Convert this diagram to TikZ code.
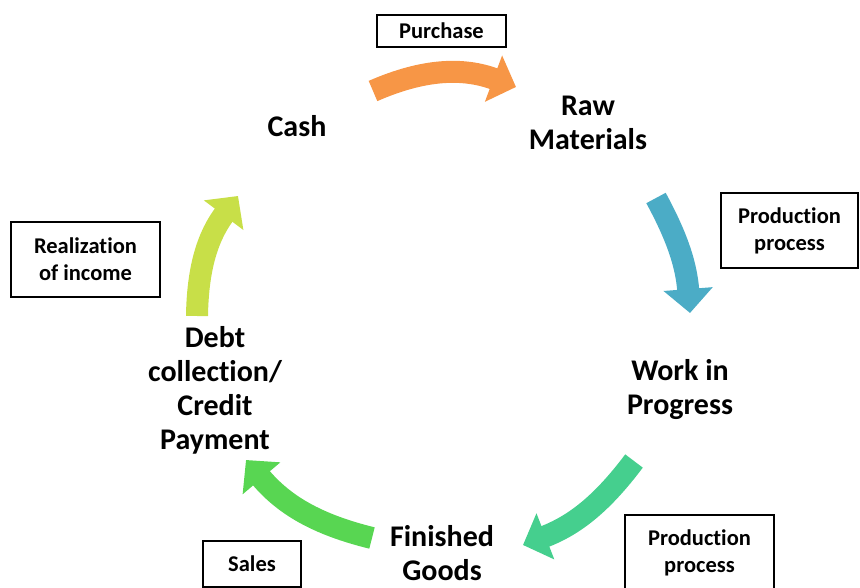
\documentclass[tikz,border=0pt]{standalone}
\usepackage{fontspec}
\setmainfont[Ligatures=NoCommon]{Carlito}
\usepackage{xcolor}
\usetikzlibrary{arrows.meta, positioning}

\definecolor{purchase_orange}{HTML}{F79646}
\definecolor{production_blue}{HTML}{4BACC6}
\definecolor{process_teal}{HTML}{45CF8E}
\definecolor{sales_green}{HTML}{58D652}
\definecolor{income_lime}{HTML}{C8DF48}

\tikzset{stage/.style={font=\fontsize{30}{34}\selectfont\bfseries, align=center},
         label_box/.style={draw, line width=1.5pt, inner sep=0pt, align=center,
                           font=\fontsize{22.5}{27}\selectfont\bfseries},
         flow/.style={line width=22pt, -{Triangle[length=24pt, width=48pt]}}
        }

\begin{document}
\begin{tikzpicture}[x=1pt, y=1pt]
\useasboundingbox (0,0) rectangle (860,-588);

\node[stage](cash) at (297,-126){Cash};
\node[stage](raw_materials) at (588,-123){Raw\\Materials};
\node[stage](work_in_progress) at (680,-390){Work in\\Progress};
\node[stage](finished_goods) at (442,-553){Finished\\Goods};
\node[stage](debt_collection) at (215,-390){Debt\\collection/\\Credit\\Payment};

\node[label_box, minimum width=129pt, minimum height=32pt](purchase) at (441.5,-31){Purchase};
\node[label_box, minimum width=137pt, minimum height=75pt](production_top) at (789.5,-230.5){Production\\process};
\node[label_box, minimum width=149pt, minimum height=75pt](production_bottom) at (699.5,-552.5){Production\\process};
\node[label_box, minimum width=98pt, minimum height=46pt](sales) at (252,-564){Sales};
\node[label_box, minimum width=149pt, minimum height=75pt](realization) at (85.5,-259.5){Realization\\of income};

\coordinate (purchase_tail) at (373,-91);
\coordinate (purchase_tip) at (516,-87);
\coordinate (production_tail) at (656,-198);
\coordinate (production_tip) at (690,-313);
\coordinate (process_tail) at (634,-461);
\coordinate (process_tip) at (523,-545);
\coordinate (sales_tail) at (372,-538);
\coordinate (sales_tip) at (246,-460);
\coordinate (income_tail) at (197,-316);
\coordinate (income_tip) at (238,-196);

\draw[flow, purchase_orange](purchase_tail) to [bend left = 22] (purchase_tip);
\draw[flow, production_blue](production_tail) to [bend left = 12] (production_tip);
\draw[flow, process_teal](process_tail) to [bend left = 16] (process_tip);
\draw[flow, sales_green](sales_tail) to [bend left = 18] (sales_tip);
\draw[flow, income_lime](income_tail) to [bend left = 18] (income_tip);

\end{tikzpicture}
\end{document}
